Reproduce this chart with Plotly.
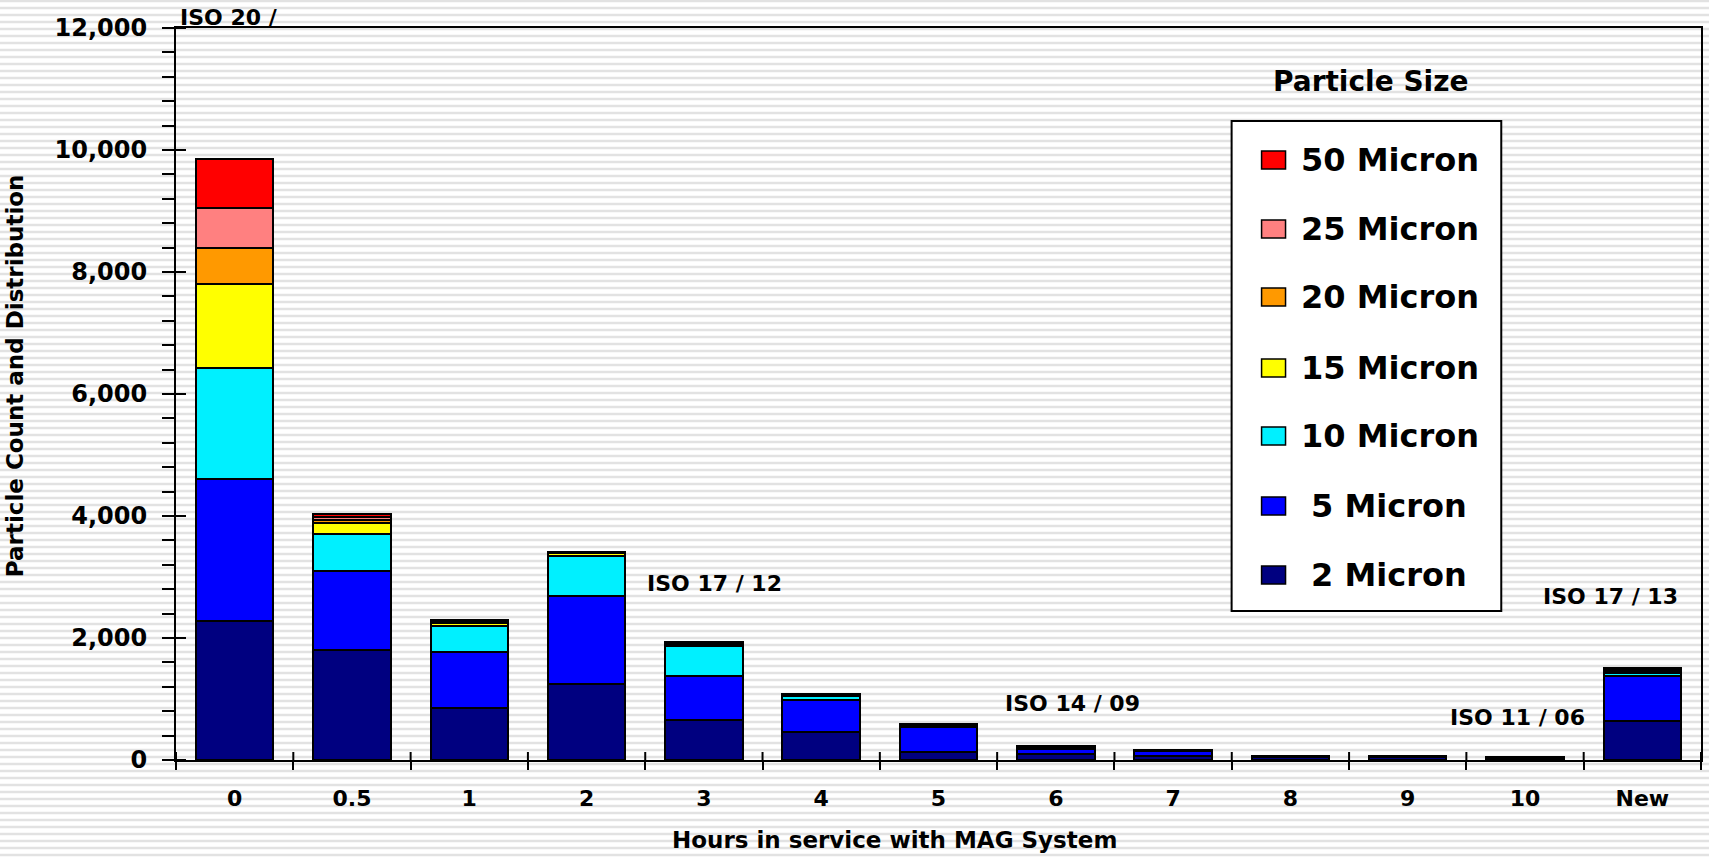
import plotly.graph_objects as go

# hours in service (categories) and particle counts per size band
hours = ["0", "0.5", "1", "2", "3", "4", "5", "6", "7", "8", "9", "10", "New"]
micron_2 = [2280, 1810, 850, 1245, 655, 460, 125, 95, 70, 45, 45, 25, 645]
micron_5 = [2330, 1285, 920, 1450, 720, 525, 420, 85, 80, 20, 20, 12, 730]
micron_10 = [1810, 615, 425, 655, 490, 70, 20, 25, 8, 3, 3, 2, 45]
micron_15 = [1390, 170, 45, 45, 25, 10, 10, 10, 3, 1, 1, 1, 30]
micron_20 = [590, 55, 20, 10, 20, 5, 5, 7, 2, 1, 1, 1, 25]
micron_25 = [655, 45, 15, 5, 15, 5, 3, 5, 1, 1, 1, 0.5, 20]
micron_50 = [795, 55, 20, 5, 15, 5, 2, 3, 1, 0.5, 0.5, 0.5, 20]

series = [
    ("2 Micron", micron_2, "#000080"),
    ("5 Micron", micron_5, "#0000ff"),
    ("10 Micron", micron_10, "#00f0ff"),
    ("15 Micron", micron_15, "#ffff00"),
    ("20 Micron", micron_20, "#ff9900"),
    ("25 Micron", micron_25, "#ff8080"),
    ("50 Micron", micron_50, "#ff0000"),
]

iso_labels = ["ISO 20 /", "ISO 17 / 12", "ISO 14 / 09", "ISO 11 / 06", "ISO 17 / 13"]

FONT = "DejaVu Sans, Verdana, sans-serif"
W, H = 1709, 857
ML, MR, MT, MB = 176, 6, 28, 97
PW, PH = W - ML - MR, H - MT - MB


def px(x):
    return (x - ML) / PW


def py(y):
    return (H - MB - y) / PH


def bold(size):
    return dict(family=FONT, size=size, color="black", weight="bold")


fig = go.Figure()
for name, vals, col in series:
    fig.add_trace(go.Bar(
        x=hours, y=vals, name=name, showlegend=False,
        marker=dict(color=col, line=dict(color="black", width=2)),
    ))

# striped background
shapes = []
for p in range(1, H, 7):
    shapes.append(dict(type="line", xref="paper", yref="paper",
                       x0=-0.2, x1=1.1, y0=py(p), y1=py(p),
                       line=dict(color="#e2e2e2", width=2.5), layer="below"))
# legend box
shapes.append(dict(type="rect", xref="paper", yref="paper",
                   x0=px(1233), x1=px(1503), y0=py(611), y1=py(121),
                   fillcolor="white", line=dict(color="black", width=2), layer="below"))
# inner halves of the crossing ticks
for i in range(len(hours) + 1):
    shapes.append(dict(type="line", xref="x", yref="y", ysizemode="pixel", yanchor=0,
                       x0=i - 0.5, x1=i - 0.5, y0=0, y1=8,
                       line=dict(color="black", width=2)))
for v in range(0, 12001, 2000):
    shapes.append(dict(type="line", xref="x", yref="y", xsizemode="pixel", xanchor=-0.5,
                       x0=0, x1=10, y0=v, y1=v,
                       line=dict(color="black", width=2)))

annotations = []
# hand-made legend, largest particles on top
item_y = [575, 506, 436, 368, 297, 229, 160]
for (name, vals, col), yc in zip(series, item_y):
    shapes.append(dict(type="rect", xref="paper", yref="paper",
                       x0=px(1263), x1=px(1287), y0=py(yc + 9), y1=py(yc - 9),
                       fillcolor=col, line=dict(color="black", width=1.5)))
    tx = 1310 if len(name) < 9 else 1300
    annotations.append(dict(text=name, x=px(tx), y=py(yc), xref="paper", yref="paper",
                            xanchor="left", yanchor="middle", showarrow=False, font=bold(32)))

iso_pos = [(178, 17), (646, 583), (1004, 703), (1450, 717), (1543, 596)]
for txt, (x, y) in zip(iso_labels, iso_pos):
    annotations.append(dict(text=txt, x=px(x), y=py(y), xref="paper", yref="paper",
                            xanchor="left", yanchor="middle", showarrow=False, font=bold(22)))
annotations.append(dict(text="Particle Size", x=px(1372), y=py(82), xref="paper", yref="paper",
                        xanchor="center", yanchor="middle", showarrow=False, font=bold(28)))
annotations.append(dict(text="Hours in service with MAG System", x=px(895), y=py(840),
                        xref="paper", yref="paper", xanchor="center", yanchor="middle",
                        showarrow=False, font=bold(23)))
annotations.append(dict(text="Particle Count and Distribution", x=px(15), y=py(376),
                        xref="paper", yref="paper", xanchor="center", yanchor="middle",
                        textangle=-90, showarrow=False, font=bold(23)))

fig.update_layout(
    width=W, height=H,
    margin=dict(l=ML, r=MR, t=MT, b=MB),
    paper_bgcolor="white", plot_bgcolor="rgba(0,0,0,0)",
    barmode="stack", bargap=0.34,
    font=dict(family=FONT, color="black"),
    shapes=shapes, annotations=annotations,
    showlegend=False,
    xaxis=dict(
        type="category", categoryorder="array", categoryarray=hours,
        range=[-0.5, len(hours) - 0.5],
        showline=True, linecolor="black", linewidth=2, mirror=True,
        ticks="outside", tickson="boundaries", ticklen=8, tickwidth=2, tickcolor="black",
        tickfont=bold(22), ticklabelstandoff=18, showgrid=False,
    ),
    yaxis=dict(
        range=[0, 12000], dtick=2000, tickformat=",d",
        showline=True, linecolor="black", linewidth=2, mirror=True,
        ticks="outside", ticklen=12, tickwidth=2, tickcolor="black",
        minor=dict(dtick=400, ticks="outside", ticklen=12, tickwidth=2, tickcolor="black"),
        tickfont=bold(24), ticklabelstandoff=10, showgrid=False, zeroline=False,
    ),
)

fig.write_html("out.html", config={"displayModeBar": False},
               post_script="document.body.style.margin='0';")
